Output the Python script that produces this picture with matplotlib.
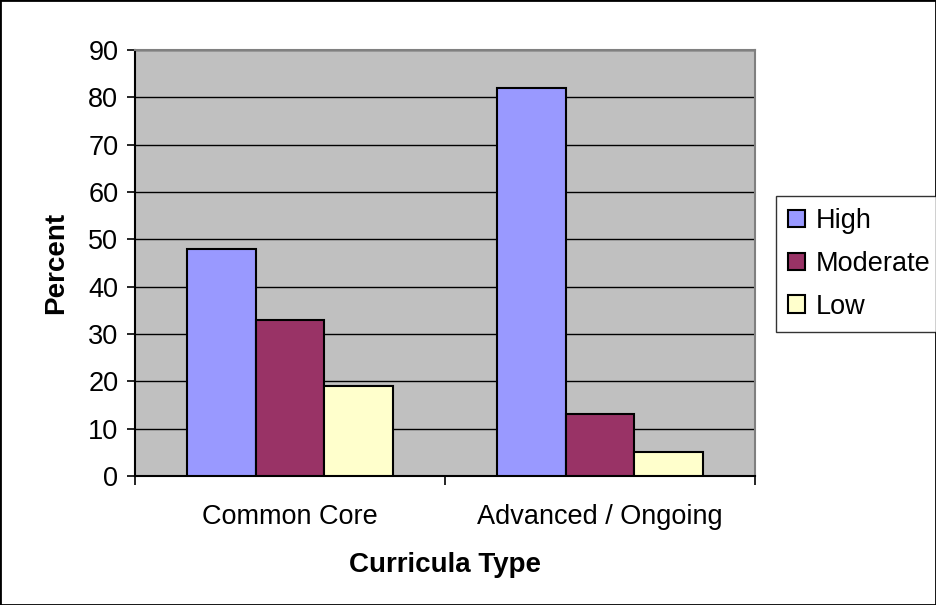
import numpy as np
import matplotlib
matplotlib.use('Agg')
import matplotlib.pyplot as plt
from matplotlib.patches import Rectangle

plt.rcParams['font.family'] = ['Liberation Sans', 'DejaVu Sans']

categories = ['Common Core', 'Advanced / Ongoing']
series_names = ['High', 'Moderate', 'Low']
high = [48, 82]
moderate = [33, 13]
low = [19, 5]
colors = ['#9999FF', '#993366', '#FFFFCC']

fs = 19.5

fig = plt.figure(figsize=(9.36, 6.05), dpi=100)
ax = fig.add_axes([135 / 936, 1 - 476 / 605, 620 / 936, 426 / 605])
ax.set_facecolor('#C0C0C0')

x = np.arange(len(categories))
width = 1 / 4.5
for i, (vals, name, c) in enumerate(zip([high, moderate, low], series_names, colors)):
    ax.bar(x + (i - 1) * width, vals, width, color=c, edgecolor='black',
           linewidth=1.5, label=name, zorder=3)

ax.set_xlim(-0.5, 1.5)
ax.set_ylim(0, 90)
ax.set_yticks(range(0, 91, 10))
ax.yaxis.grid(True, color='black', linewidth=1, zorder=1)
ax.set_axisbelow(True)

# category axis: tick marks between categories, labels at centres
ax.set_xticks([-0.5, 0.5, 1.5])
ax.set_xticklabels([])
ax.set_xticks(x, minor=True)
ax.set_xticklabels(categories, minor=True)
ax.tick_params(axis='x', which='major', direction='out', length=6.5, width=1.2)
ax.tick_params(axis='x', which='minor', length=0, pad=20, labelsize=fs)
ax.tick_params(axis='y', direction='out', length=6, width=1.2, labelsize=fs, pad=6)

for side in ['top', 'right']:
    ax.spines[side].set_color('#808080')
    ax.spines[side].set_linewidth(1.5)
ax.spines['left'].set_linewidth(1.5)
ax.spines['bottom'].set_linewidth(1.5)

ax.set_ylabel('Percent', fontsize=20, fontweight='bold', labelpad=14)
ax.set_xlabel('Curricula Type', fontsize=20, fontweight='bold', labelpad=16)

leg = fig.legend(loc='upper left', bbox_to_anchor=(776 / 936, 1 - 196 / 605),
                 fontsize=fs, frameon=True, fancybox=False, edgecolor='black',
                 handlelength=0.62, handleheight=0.62, handletextpad=0.4,
                 labelspacing=0.62, borderpad=0.45, borderaxespad=0)
leg.get_frame().set_linewidth(1)

fig.patches.append(Rectangle((0, 0), 1, 1, transform=fig.transFigure,
                             fill=False, edgecolor='black', linewidth=2))

fig.savefig('out.png', dpi=100)
